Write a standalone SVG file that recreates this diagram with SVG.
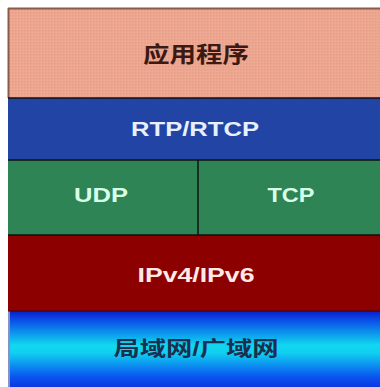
<svg xmlns="http://www.w3.org/2000/svg" width="380" height="387" viewBox="0 0 380 387">
  <defs>
    <linearGradient id="lan" x1="0" y1="0" x2="0" y2="1">
      <stop offset="0" stop-color="#0a1ec8"/>
      <stop offset="0.12" stop-color="#0a4ee8"/>
      <stop offset="0.45" stop-color="#10d8f0"/>
      <stop offset="0.55" stop-color="#10d0f0"/>
      <stop offset="0.88" stop-color="#0a50f0"/>
      <stop offset="1" stop-color="#0a38e0"/>
    </linearGradient>
    <pattern id="dots" width="3" height="3" patternUnits="userSpaceOnUse">
      <rect width="3" height="3" fill="#eda992"/>
      <rect width="1.5" height="1.5" fill="#e89c88"/>
    </pattern>
  </defs>
  <style>
    .sep { stroke: #101010; stroke-width: 1.5; fill: none; }
    .lbl { font-family: "Liberation Sans", Arial, "Noto Sans CJK SC", sans-serif; font-weight: bold; text-anchor: middle; }
  </style>
  <rect x="0" y="0" width="380" height="387" fill="#ffffff"/>

  <g id="app">
    <rect x="8" y="8" width="372" height="90" fill="url(#dots)"/>
    <line x1="8" y1="8.5" x2="380" y2="8.5" stroke="#8a5a4a" stroke-width="2"/>
    <line x1="8.5" y1="8" x2="8.5" y2="98" stroke="#8a5a4a" stroke-width="2"/>
    <text class="lbl" x="196" y="62" font-size="22" fill="#3a1a12" textLength="106" lengthAdjust="spacingAndGlyphs">应用程序</text>
  </g>

  <g id="rtp">
    <rect x="8" y="98" width="372" height="62" fill="#2244a4"/>
    <text class="lbl" x="195" y="136" font-size="21" fill="#e8f0ff" textLength="128" lengthAdjust="spacingAndGlyphs">RTP/RTCP</text>
  </g>

  <g id="udp">
    <rect x="8" y="160" width="190" height="75" fill="#2e8455"/>
    <text class="lbl" x="101" y="202" font-size="21" fill="#d8ffe8" textLength="54" lengthAdjust="spacingAndGlyphs">UDP</text>
  </g>

  <g id="tcp">
    <rect x="198" y="160" width="182" height="75" fill="#2e8455"/>
    <text class="lbl" x="291" y="202" font-size="21" fill="#d8ffe8" textLength="47" lengthAdjust="spacingAndGlyphs">TCP</text>
  </g>

  <g id="ip">
    <rect x="8" y="235" width="372" height="76" fill="#8c0000"/>
    <text class="lbl" x="196" y="282" font-size="21" fill="#ffe8e8" textLength="117" lengthAdjust="spacingAndGlyphs">IPv4/IPv6</text>
  </g>

  <g id="lan-layer">
    <rect x="8" y="311" width="372" height="76" fill="url(#lan)"/>
    <line x1="9" y1="311" x2="9" y2="387" stroke="#8890c8" stroke-width="2"/>
    <text class="lbl" x="196" y="356" font-size="20" fill="#1a3050" textLength="165" lengthAdjust="spacingAndGlyphs">局域网/广域网</text>
  </g>

  <g id="connectors">
    <line class="sep" x1="8" y1="98" x2="380" y2="98"/>
    <line class="sep" x1="8" y1="160" x2="380" y2="160"/>
    <line class="sep" x1="198" y1="160" x2="198" y2="235"/>
    <line class="sep" x1="8" y1="235" x2="380" y2="235"/>
    <line x1="8" y1="311" x2="380" y2="311" stroke="#3a0010" stroke-width="1"/>
  </g>
</svg>
